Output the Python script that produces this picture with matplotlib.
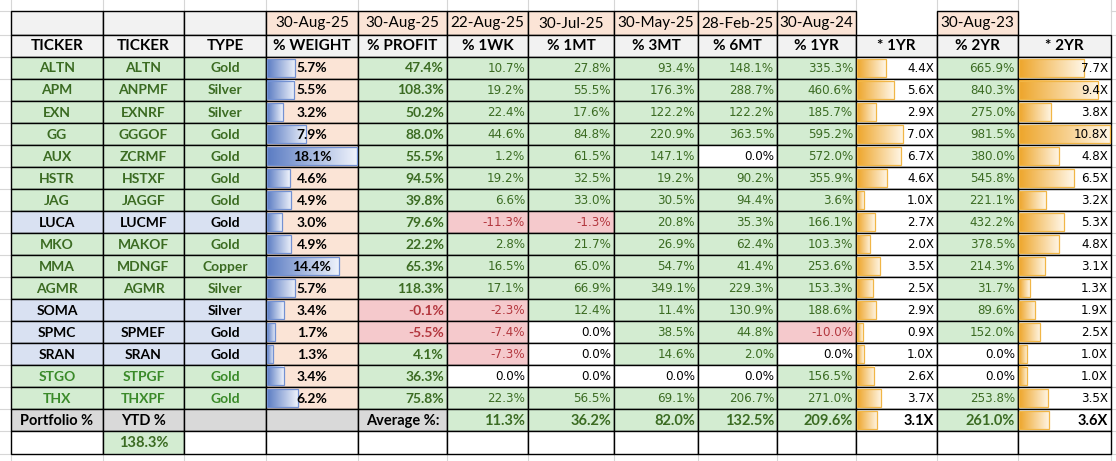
import numpy as np
import matplotlib
matplotlib.use("Agg")
import matplotlib.pyplot as plt
from matplotlib.patches import Rectangle

# ── data ──
tickers = ["ALTN", "APM", "EXN", "GG", "AUX", "HSTR", "JAG", "LUCA", "MKO", "MMA",
           "AGMR", "SOMA", "SPMC", "SRAN", "STGO", "THX"]
otc = ["ALTN", "ANPMF", "EXNRF", "GGGOF", "ZCRMF", "HSTXF", "JAGGF", "LUCMF", "MAKOF",
       "MDNGF", "AGMR", "", "SPMEF", "SRAN", "STPGF", "THXPF"]
types = ["Gold", "Silver", "Silver", "Gold", "Gold", "Gold", "Gold", "Gold", "Gold",
         "Copper", "Silver", "Silver", "Gold", "Gold", "Gold", "Gold"]
blue_rows = ["LUCA", "SOMA", "SPMC", "SRAN"]

weight = [5.7, 5.5, 3.2, 7.9, 18.1, 4.6, 4.9, 3.0, 4.9, 14.4, 5.7, 3.4, 1.7, 1.3, 3.4, 6.2]
profit = [47.4, 108.3, 50.2, 88.0, 55.5, 94.5, 39.8, 79.6, 22.2, 65.3, 118.3, -0.1, -5.5, 4.1, 36.3, 75.8]
wk1 = [10.7, 19.2, 22.4, 44.6, 1.2, 19.2, 6.6, -11.3, 2.8, 16.5, 17.1, -2.3, -7.4, -7.3, 0.0, 22.3]
mt1 = [27.8, 55.5, 17.6, 84.8, 61.5, 32.5, 33.0, -1.3, 21.7, 65.0, 66.9, 12.4, 0.0, 0.0, 0.0, 56.5]
mt3 = [93.4, 176.3, 122.2, 220.9, 147.1, 19.2, 30.5, 20.8, 26.9, 54.7, 349.1, 11.4, 38.5, 14.6, 0.0, 69.1]
mt6 = [148.1, 288.7, 122.2, 363.5, 0.0, 90.2, 94.4, 35.3, 62.4, 41.4, 229.3, 130.9, 44.8, 2.0, 0.0, 206.7]
yr1 = [335.3, 460.6, 185.7, 595.2, 572.0, 355.9, 3.6, 166.1, 103.3, 253.6, 153.3, 188.6, -10.0, 0.0, 156.5, 271.0]
mult1 = [4.4, 5.6, 2.9, 7.0, 6.7, 4.6, 1.0, 2.7, 2.0, 3.5, 2.5, 2.9, 0.9, 1.0, 2.6, 3.7]
yr2 = [665.9, 840.3, 275.0, 981.5, 380.0, 545.8, 221.1, 432.2, 378.5, 214.3, 31.7, 89.6, 152.0, 0.0, 0.0, 253.8]
mult2 = [7.7, 9.4, 3.8, 10.8, 4.8, 6.5, 3.2, 5.3, 4.8, 3.1, 1.3, 1.9, 2.5, 1.0, 1.0, 3.5]

avg_pct = [11.3, 36.2, 82.0, 132.5, 209.6]
avg_mult1 = 3.1
avg_yr2 = 261.0
avg_mult2 = 3.6
ytd = 138.3

dates = ["30-Aug-25", "30-Aug-25", "22-Aug-25", "30-Jul-25", "30-May-25", "28-Feb-25", "30-Aug-24"]
headers = ["TICKER", "TICKER", "TYPE", "% WEIGHT", "% PROFIT", "% 1WK", "% 1MT", "% 3MT",
           "% 6MT", "% 1YR", "* 1YR", "% 2YR", "* 2YR"]
date_2yr = "30-Aug-23"

# ── layout (pixels) ──
W, H = 1116, 461
xe = [11, 103, 184, 266, 358, 447, 528, 614, 698, 777, 856, 937, 1018, 1111]
y_h1, y_h2, y_d0, rh = 11, 35, 57, 22
n = len(tickers)
y_port = y_d0 + n * rh
y_last = y_port + rh
y_end = y_last + 23

GREEN_BG = "#d3ecd1"
BLUE_BG = "#d9e1f2"
PEACH = "#fbe4d6"
RED_BG = "#f5c9cc"
LGRAY = "#f2f2f2"
DGRAY = "#d9d9d9"
GREEN_TX = "#3b6b22"
GREEN_TX2 = "#3a8a29"
RED_TX = "#b3373e"
GRID = "#d6d6d6"

BOLD = ["Lato", "DejaVu Sans"]
REG = ["DejaVu Sans"]
NUM = 8.6

fig = plt.figure(figsize=(W / 100, H / 100), dpi=100)
ax = fig.add_axes([0, 0, 1, 1])
ax.axis("off")


def cell(c, y0, y1, fc="white"):
    ax.add_patch(Rectangle((xe[c], y0), xe[c + 1] - xe[c], y1 - y0, facecolor=fc,
                           edgecolor="black", linewidth=1.0, zorder=1))


def txt(c, y0, y1, s, ha="center", color="black", bold=False, size=9.5, family=None):
    if ha == "center":
        x = (xe[c] + xe[c + 1]) / 2
    elif ha == "right":
        x = xe[c + 1] - 3
    else:
        x = xe[c] + 3
    fam = family or (BOLD if bold else REG)
    ax.text(x, (y0 + y1) / 2 + 0.5, s, ha=ha, va="center", color=color, fontsize=size,
            fontweight="bold" if bold else "normal", family=fam, zorder=5)


def databar(c, y0, y1, frac, c_left, c_right, edge):
    x0 = xe[c] + 1
    full = xe[c + 1] - xe[c] - 2
    w = max(frac * full, 2)
    grad = np.linspace(0, 1, 64)[None, :, None]
    rgb = np.array(matplotlib.colors.to_rgb(c_left)) * (1 - grad) + \
        np.array(matplotlib.colors.to_rgb(c_right)) * grad
    ax.imshow(rgb, extent=[x0, x0 + w, y1 - 2, y0 + 2], aspect="auto", zorder=2,
              interpolation="bilinear")
    ax.add_patch(Rectangle((x0, y0 + 2), w, y1 - y0 - 4, facecolor="none",
                           edgecolor=edge, linewidth=0.9, zorder=3))


# faint spreadsheet gridlines outside the table
for x in xe:
    ax.plot([x, x], [0, y_h1], color=GRID, lw=0.8, zorder=0)
    ax.plot([x, x], [y_end, H], color=GRID, lw=0.8, zorder=0)
for y in [y_h1, y_h2] + [y_d0 + i * rh for i in range(n + 2)] + [y_end]:
    ax.plot([0, xe[0]], [y, y], color=GRID, lw=0.8, zorder=0)
    ax.plot([xe[-1], W], [y, y], color=GRID, lw=0.8, zorder=0)
for c in (10, 12):
    ax.plot([xe[c], xe[c]], [y_h1, y_h2], color=GRID, lw=0.8, zorder=0)
    ax.plot([xe[c + 1], xe[c + 1]], [y_h1, y_h2], color=GRID, lw=0.8, zorder=0)

# header row 1
for c in range(3):
    cell(c, y_h1, y_h2, LGRAY)
for c, d in zip(range(3, 10), dates):
    cell(c, y_h1, y_h2, PEACH)
    txt(c, y_h1, y_h2, d, size=11, family=["Lato", "DejaVu Sans"])
cell(11, y_h1, y_h2, PEACH)
txt(11, y_h1, y_h2, date_2yr, size=11, family=["Lato", "DejaVu Sans"])

# header row 2
for c, h in enumerate(headers):
    cell(c, y_h2, y_d0, LGRAY)
    txt(c, y_h2, y_d0, h, bold=True, size=11)

wmax = max(weight)
m1_scale = 12.0
m2_scale = max(mult2)


def pct_cell(c, y0, y1, v, bold=False, size=NUM):
    if v > 0:
        fc, tc = GREEN_BG, GREEN_TX
    elif v < 0:
        fc, tc = RED_BG, RED_TX
    else:
        fc, tc = "white", "black"
    cell(c, y0, y1, fc)
    txt(c, y0, y1, f"{v:.1f}%", ha="right", color=tc, bold=bold, size=size)


for i in range(n):
    y0, y1 = y_d0 + i * rh, y_d0 + (i + 1) * rh
    blue = tickers[i] in blue_rows
    fc = BLUE_BG if blue else GREEN_BG
    tc = "black" if blue else (GREEN_TX2 if tickers[i] in ("STGO", "THX") else GREEN_TX)
    for c, s in enumerate([tickers[i], otc[i], types[i]]):
        cell(c, y0, y1, fc)
        txt(c, y0, y1, s, color=tc, bold=True, size=10)
    cell(3, y0, y1, PEACH)
    databar(3, y0, y1, weight[i] / wmax, "#5b7cc3", "#eef2fb", "#7391d2")
    txt(3, y0, y1, f"{weight[i]:.1f}%", bold=True, size=10)
    pct_cell(4, y0, y1, profit[i], bold=True, size=10)
    for c, arr in zip(range(5, 10), [wk1, mt1, mt3, mt6, yr1]):
        pct_cell(c, y0, y1, arr[i])
    cell(10, y0, y1)
    databar(10, y0, y1, mult1[i] / m1_scale, "#eea62c", "#fff6e6", "#f1b646")
    txt(10, y0, y1, f"{mult1[i]:.1f}X", ha="right", size=NUM)
    pct_cell(11, y0, y1, yr2[i])
    cell(12, y0, y1)
    databar(12, y0, y1, mult2[i] / m2_scale, "#eea62c", "#fff6e6", "#f1b646")
    txt(12, y0, y1, f"{mult2[i]:.1f}X", ha="right", size=NUM)

# portfolio / average row
y0, y1 = y_port, y_last
for c in range(5):
    cell(c, y0, y1, DGRAY)
txt(0, y0, y1, "Portfolio %", bold=True, size=10.5)
txt(1, y0, y1, "YTD %", bold=True, size=10.5)
txt(4, y0, y1, "Average %:", bold=True, size=10.5)
for c, v in zip(range(5, 10), avg_pct):
    pct_cell(c, y0, y1, v, bold=True, size=10.5)
cell(10, y0, y1)
databar(10, y0, y1, avg_mult1 / m1_scale, "#eea62c", "#fff6e6", "#f1b646")
txt(10, y0, y1, f"{avg_mult1:.1f}X", ha="right", bold=True, size=10.5)
pct_cell(11, y0, y1, avg_yr2, bold=True, size=10.5)
cell(12, y0, y1)
databar(12, y0, y1, avg_mult2 / m2_scale, "#eea62c", "#fff6e6", "#f1b646")
txt(12, y0, y1, f"{avg_mult2:.1f}X", ha="right", bold=True, size=10.5)

# last row
y0, y1 = y_last, y_end
for c in range(13):
    cell(c, y0, y1, GREEN_BG if c == 1 else "white")
txt(1, y0, y1, f"{ytd:.1f}%", color=GREEN_TX, bold=True, size=10.5)

ax.set_xlim(0, W)
ax.set_ylim(H, 0)
fig.savefig("out.png", dpi=100, facecolor="white")
